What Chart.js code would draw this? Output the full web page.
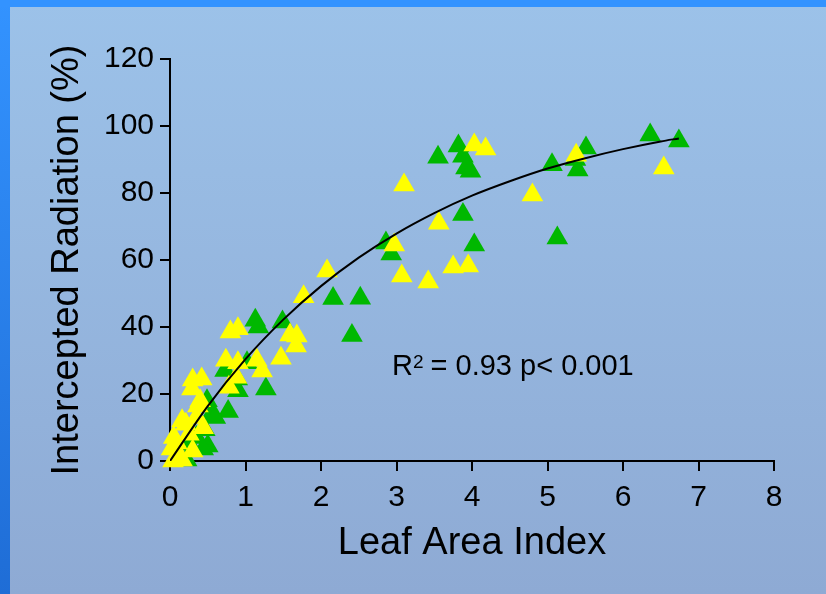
<!DOCTYPE html>
<html>
<head>
<meta charset="utf-8">
<script src="https://cdn.jsdelivr.net/npm/chart.js@4/dist/chart.umd.min.js"></script>
<style>
    html, body { margin: 0; padding: 0; }
    #frame {
        position: relative;
        width: 826px;
        height: 594px;
        background:
            linear-gradient(#3393ff, #3393ff) top left / 100% 7px no-repeat,
            linear-gradient(#3393ff, #1f6dd6) top left / 10px 100% no-repeat,
            linear-gradient(#9cc2e9, #8eaad4);
    }
    #chart { position: absolute; left: 0; top: 0; }
</style>
</head>
<body>
<div id="frame">
    <canvas id="chart" width="826" height="594"></canvas>
</div>
<script>
// green triangles
const laiGreen = [6.36, 6.74, 5.51, 5.37, 5.40, 5.06, 5.13,
    3.55, 3.82, 3.88, 3.92, 3.98, 3.88, 4.03,
    2.86, 2.93, 2.16, 2.52, 2.41,
    1.13, 1.17, 1.49, 1.02, 0.73, 0.89, 1.27, 0.90, 0.77,
    0.49, 0.55, 0.46, 0.50, 0.44, 0.26, 0.22, 0.60, 0.35, 0.10];
const irGreen = [97.3, 95.5, 93.4, 90.0, 86.9, 88.4, 66.6,
    90.7, 94.0, 91.0, 87.5, 86.5, 73.6, 64.5,
    65.1, 61.8, 48.5, 48.6, 37.5,
    42.0, 40.0, 41.5, 29.3, 27.0, 24.5, 21.5, 21.0, 14.8,
    18.0, 14.0, 9.3, 4.5, 3.6, 5.0, 0.3, 13.0, 7.0, 2.0];

// yellow triangles
const laiYellow = [6.54, 5.38, 4.80, 4.03, 4.18, 3.10, 3.56, 3.95, 3.75, 3.42, 2.97, 3.07,
    2.08, 1.77, 1.59, 1.68, 1.67, 1.47,
    0.80, 0.90, 0.74, 0.90, 1.15, 1.22, 0.88, 0.78,
    0.30, 0.42, 0.29, 0.37, 0.44, 0.21, 0.16, 0.25, 0.09, 0.02, 0.04, 0.16, 0.10, 0.30, 0.05, 0.35, 0.40];
const irYellow = [87.5, 91.3, 79.4, 94.3, 93.1, 82.4, 71.0, 58.2, 57.9, 53.4, 64.5, 55.2,
    56.7, 49.0, 37.6, 37.3, 34.3, 30.7,
    38.5, 39.5, 30.1, 29.3, 30.1, 26.9, 25.0, 22.0,
    24.2, 24.5, 21.5, 16.4, 9.9, 11.0, 12.0, 8.0, 5.4, 3.6, 0.0, 0.3, 1.5, 3.0, 7.0, 13.0, 18.0];

// fitted curve
const fitLai = [0, 0.5, 1, 1.5, 2, 2.5, 3, 3.5, 4, 4.5, 5, 5.5, 6, 6.5, 6.74];
const fitIr = [0, 16.4, 30.4, 42.2, 52.2, 60.7, 67.9, 74.0, 79.2, 83.5, 87.3, 90.4, 93.1, 95.4, 96.3];

const xTicks = [0, 1, 2, 3, 4, 5, 6, 7, 8];
const yTicks = [0, 20, 40, 60, 80, 100, 120];

const statLabel = { lai: 2.94, ir: 25.7 };

function toPoints(xs, ys) {
    return xs.map((x, i) => ({ x: x, y: ys[i] }));
}

// R² note inside the plot
const statPlugin = {
    id: "statText",
    afterDatasetsDraw(chart) {
        const ctx = chart.ctx;
        const x = chart.scales.x.getPixelForValue(statLabel.lai);
        const y = chart.scales.y.getPixelForValue(statLabel.ir);
        ctx.save();
        ctx.fillStyle = "#000";
        ctx.textBaseline = "alphabetic";
        ctx.textAlign = "left";
        ctx.font = "29px 'Liberation Sans', Arial, sans-serif";
        ctx.fillText("R", x, y);
        const rw = ctx.measureText("R").width;
        ctx.font = "19px 'Liberation Sans', Arial, sans-serif";
        ctx.fillText("2", x + rw, y - 7);
        const sw = ctx.measureText("2").width;
        ctx.font = "29px 'Liberation Sans', Arial, sans-serif";
        ctx.fillText(" = 0.93 p< 0.001", x + rw + sw - 1, y);
        ctx.restore();
    }
};

const axisFont = { family: "'Liberation Sans', Arial, sans-serif", size: 30 };
const titleFont = { family: "'Liberation Sans', Arial, sans-serif", size: 38 };

new Chart(document.getElementById("chart").getContext("2d"), {
    type: "scatter",
    data: {
        datasets: [
            {
                data: toPoints(fitLai, fitIr),
                showLine: true,
                borderColor: "#000",
                borderWidth: 2,
                pointRadius: 0,
                cubicInterpolationMode: "monotone",
                order: 0
            },
            {
                data: toPoints(laiYellow, irYellow),
                pointStyle: "triangle",
                pointRadius: 12.5,
                backgroundColor: "#ffff00",
                borderWidth: 0,
                clip: false,
                order: 1
            },
            {
                data: toPoints(laiGreen, irGreen),
                pointStyle: "triangle",
                pointRadius: 12.5,
                backgroundColor: "#00b800",
                borderWidth: 0,
                clip: false,
                order: 2
            }
        ]
    },
    options: {
        responsive: false,
        animation: false,
        events: [],
        layout: { padding: { top: 59, right: 52, left: 0, bottom: 0 } },
        plugins: {
            legend: { display: false },
            tooltip: { enabled: false }
        },
        scales: {
            x: {
                type: "linear",
                min: 0,
                max: 8,
                afterFit: s => { s.height = 133; },
                afterBuildTicks: s => { s.ticks = xTicks.map(v => ({ value: v })); },
                ticks: { color: "#000", font: axisFont, padding: 9, maxRotation: 0 },
                grid: { drawOnChartArea: false, drawTicks: true, tickLength: 10, color: "#000", lineWidth: 2 },
                border: { display: true, color: "#000", width: 2 },
                title: {
                    display: true,
                    text: "Leaf Area Index",
                    color: "#000",
                    font: titleFont,
                    padding: { top: 0, bottom: 28 }
                }
            },
            y: {
                type: "linear",
                min: 0,
                max: 120,
                afterFit: s => { s.width = 170; },
                afterBuildTicks: s => { s.ticks = yTicks.map(v => ({ value: v })); },
                ticks: { color: "#000", font: axisFont, padding: 6 },
                grid: { drawOnChartArea: false, drawTicks: true, tickLength: 10, color: "#000", lineWidth: 2 },
                border: { display: true, color: "#000", width: 2 },
                title: {
                    display: true,
                    text: "Intercepted Radiation (%)",
                    color: "#000",
                    font: titleFont,
                    padding: { top: 45, bottom: 0 }
                }
            }
        }
    },
    plugins: [statPlugin]
});
</script>
</body>
</html>
